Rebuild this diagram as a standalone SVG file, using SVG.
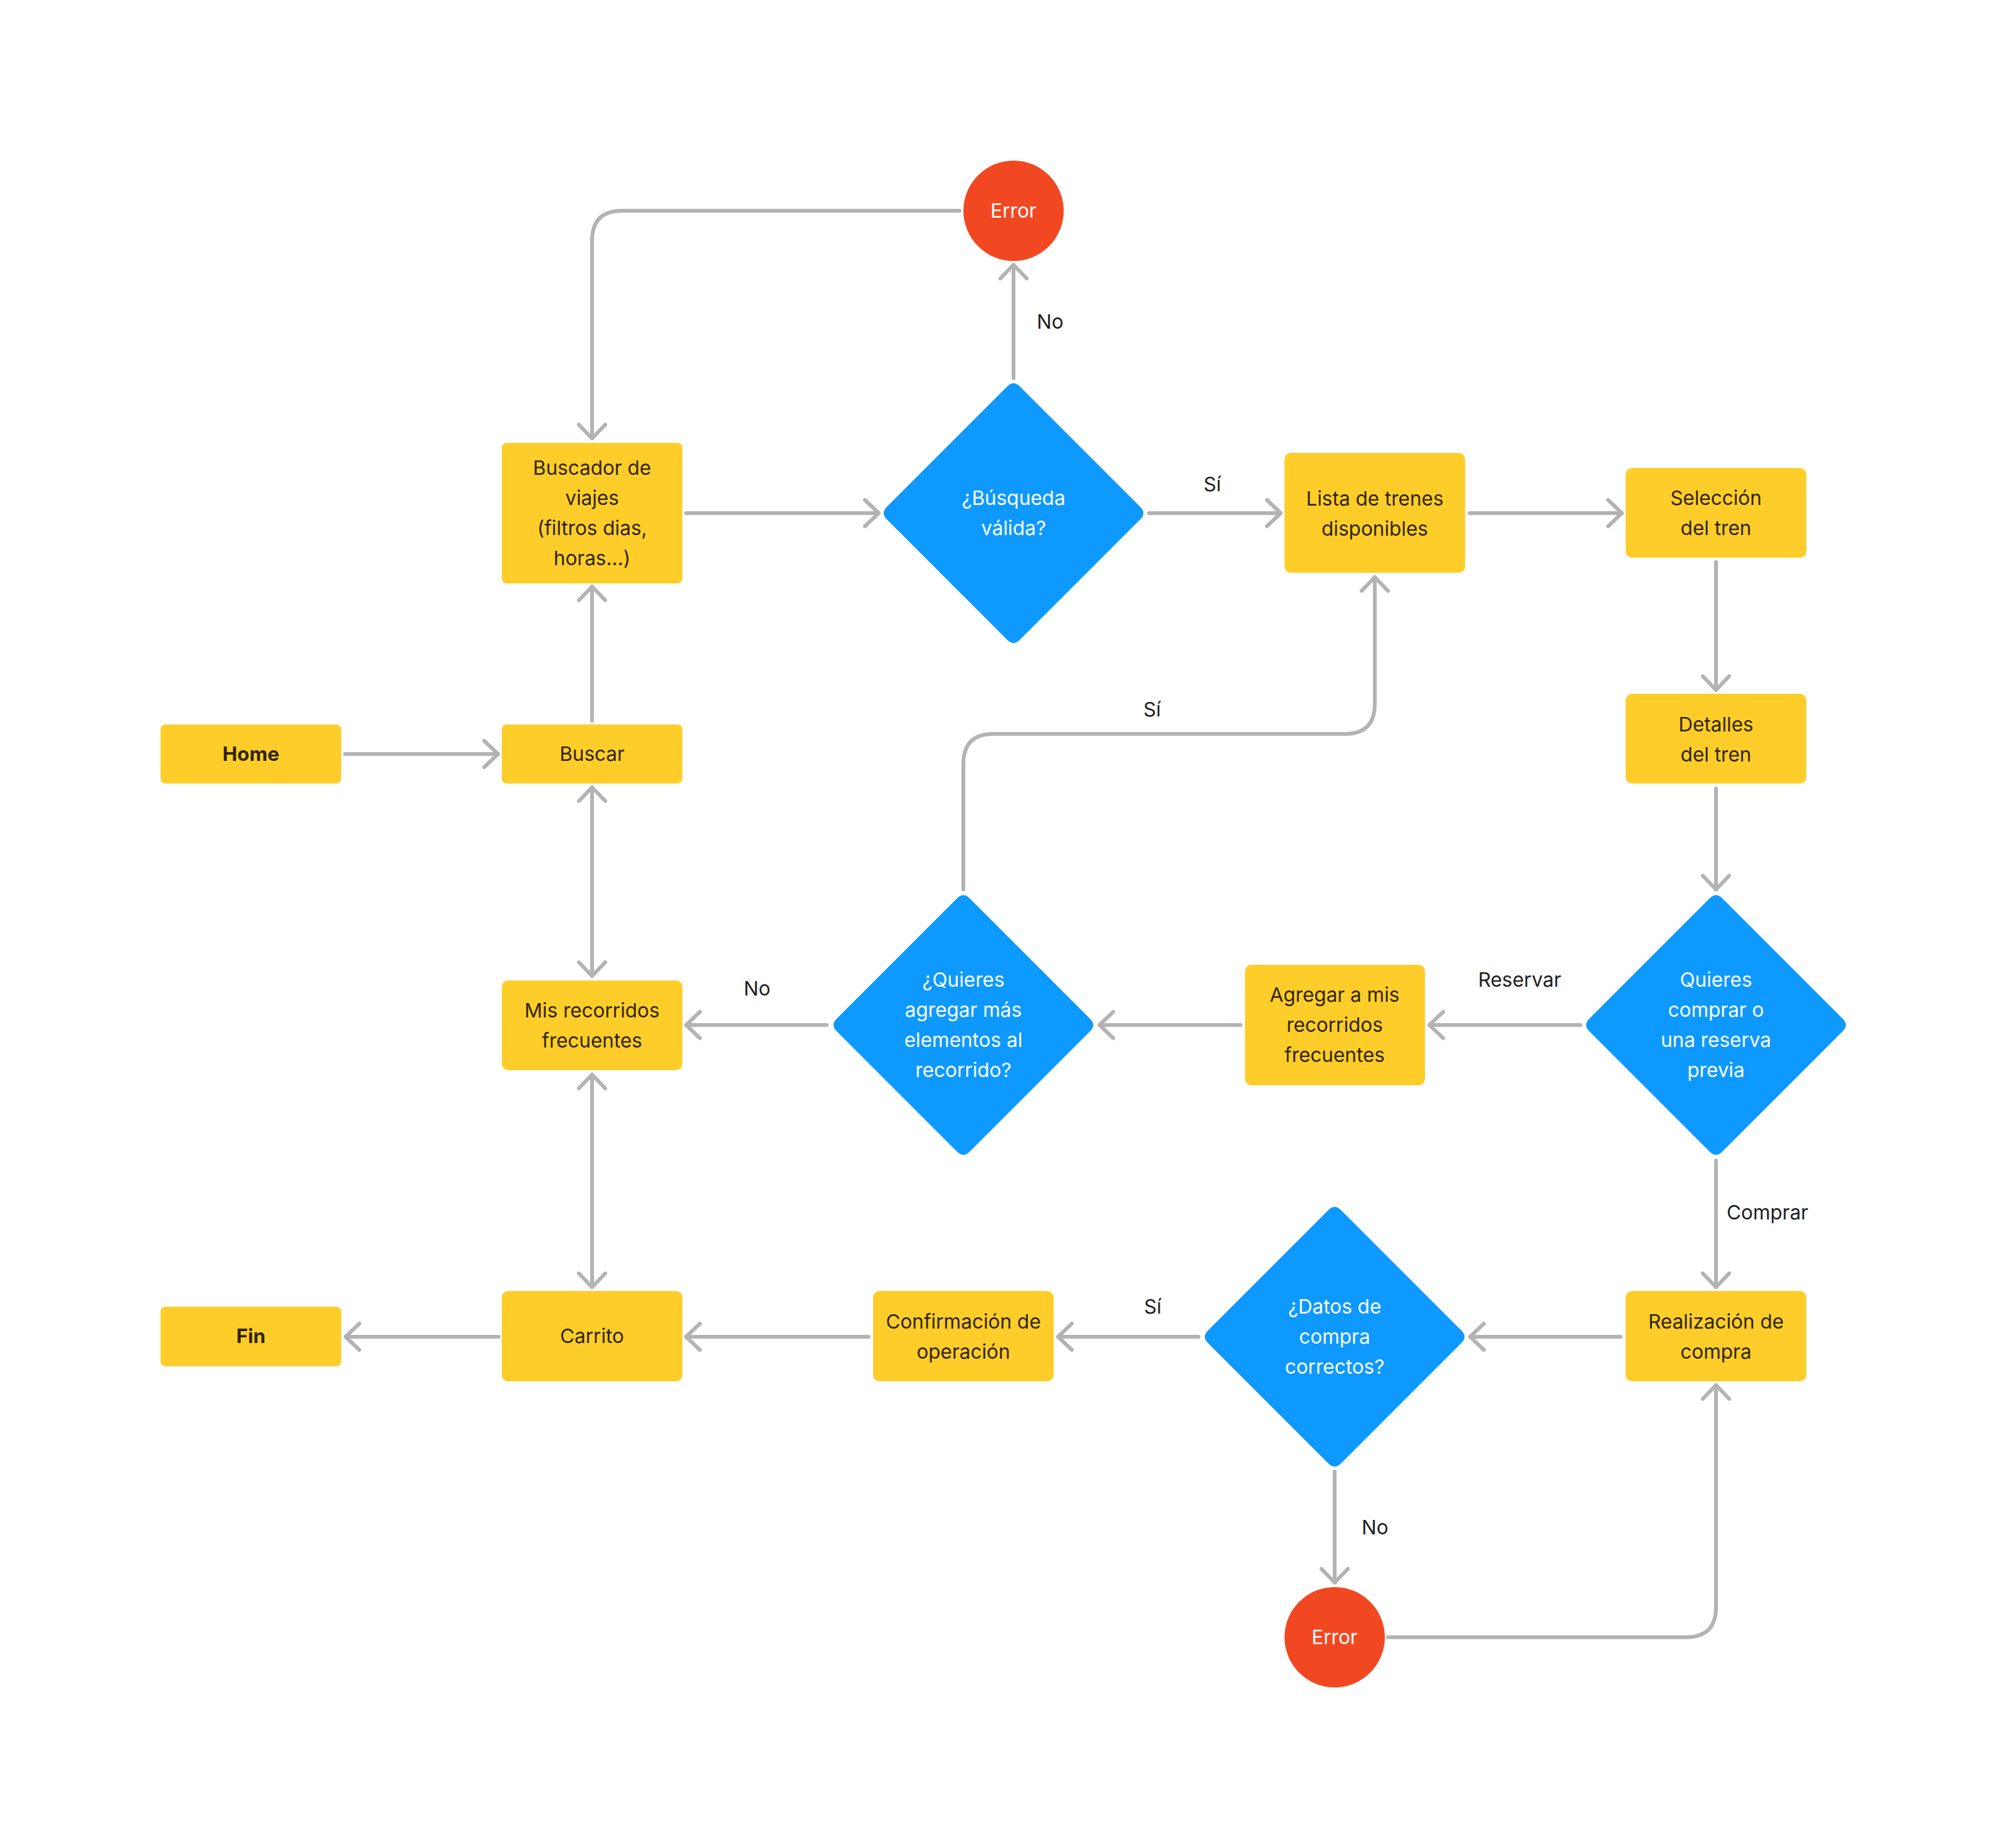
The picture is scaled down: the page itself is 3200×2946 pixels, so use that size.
<svg xmlns="http://www.w3.org/2000/svg" width="3200" height="2946" viewBox="0 0 3200 2946">
<style>
.box{fill:#FFCD29}
.dia{fill:#0D99FF}
.err{fill:#F24822}
.t{font-family:Inter,"Noto Sans","Liberation Sans",sans-serif;font-size:31.5px;text-anchor:middle;fill:#2E2500}
.w{fill:#FFFFFF}
.b{font-weight:700}
.lbl{font-family:Inter,"Noto Sans","Liberation Sans",sans-serif;font-size:31.5px;fill:#1E1E1E}
.c{fill:none;stroke:#B3B3B3;stroke-width:6;stroke-linecap:round;stroke-linejoin:round}
</style>
<defs>
<marker id="ah" markerUnits="userSpaceOnUse" viewBox="-30 -30 40 60" refX="0" refY="0" markerWidth="40" markerHeight="60" orient="auto-start-reverse">
<path d="M-22,-21 L0,0 L-22,21" fill="none" stroke="#B3B3B3" stroke-width="6" stroke-linecap="round" stroke-linejoin="round"/>
</marker>
</defs>
<rect width="3200" height="2946" fill="#FFFFFF"/>
<g id="connectors">
<path class="c" d="M550,1202 L794,1202" marker-end="url(#ah)"/>
<path class="c" d="M944,1149 L944,935" marker-end="url(#ah)"/>
<path class="c" d="M944,1255 L944,1556" marker-start="url(#ah)" marker-end="url(#ah)"/>
<path class="c" d="M944,1713 L944,2052" marker-start="url(#ah)" marker-end="url(#ah)"/>
<path class="c" d="M1094,818 L1401,818" marker-end="url(#ah)"/>
<path class="c" d="M1616,603 L1616,422" marker-end="url(#ah)"/>
<path class="c" d="M1530,336 L992,336 Q944,336 944,384 L944,699" marker-end="url(#ah)"/>
<path class="c" d="M1832,818 L2042,818" marker-end="url(#ah)"/>
<path class="c" d="M2343,818 L2586,818" marker-end="url(#ah)"/>
<path class="c" d="M2736,896 L2736,1100" marker-end="url(#ah)"/>
<path class="c" d="M2736,1257 L2736,1418" marker-end="url(#ah)"/>
<path class="c" d="M2520,1634 L2279,1634" marker-end="url(#ah)"/>
<path class="c" d="M1978,1634 L1753,1634" marker-end="url(#ah)"/>
<path class="c" d="M1318,1634 L1094,1634" marker-end="url(#ah)"/>
<path class="c" d="M1536,1418 L1536,1218 Q1536,1170 1584,1170 L2144,1170 Q2192,1170 2192,1122 L2192,920" marker-end="url(#ah)"/>
<path class="c" d="M2736,1850 L2736,2052" marker-end="url(#ah)"/>
<path class="c" d="M2584,2131 L2344,2131" marker-end="url(#ah)"/>
<path class="c" d="M1911,2131 L1687,2131" marker-end="url(#ah)"/>
<path class="c" d="M1385,2131 L1094,2131" marker-end="url(#ah)"/>
<path class="c" d="M795,2131 L551,2131" marker-end="url(#ah)"/>
<path class="c" d="M2128,2346 L2128,2523" marker-end="url(#ah)"/>
<path class="c" d="M2213,2610 L2688,2610 Q2736,2610 2736,2562 L2736,2208" marker-end="url(#ah)"/>
<text class="lbl" x="1653" y="524">No</text>
<text class="lbl" x="1933" y="783" text-anchor="middle">Sí</text>
<text class="lbl" x="1837" y="1142" text-anchor="middle">Sí</text>
<text class="lbl" x="2423" y="1573" text-anchor="middle">Reservar</text>
<text class="lbl" x="1207" y="1587" text-anchor="middle">No</text>
<text class="lbl" x="2753" y="1944">Comprar</text>
<text class="lbl" x="1838" y="2094" text-anchor="middle">Sí</text>
<text class="lbl" x="2171" y="2446">No</text>
</g>
<g id="home">
<rect class="box" x="256" y="1155" width="288" height="94" rx="8"/>
<text class="t b" x="400" y="1213">Home</text>
</g>
<g id="buscar">
<rect class="box" x="800" y="1155" width="288" height="94" rx="8"/>
<text class="t" x="944" y="1213">Buscar</text>
</g>
<g id="buscador">
<rect class="box" x="800" y="706" width="288" height="224" rx="8"/>
<text class="t" x="944" y="757">Buscador de</text>
<text class="t" x="944" y="805">viajes</text>
<text class="t" x="944" y="853">(filtros dias,</text>
<text class="t" x="944" y="901">horas...)</text>
</g>
<g id="error1">
<circle class="err" cx="1616" cy="336" r="80"/>
<text class="t w" x="1616" y="347">Error</text>
</g>
<g id="busqueda">
<path class="dia" d="M1606,616 Q1616,606 1626,616 L1818,808 Q1828,818 1818,828 L1626,1020 Q1616,1030 1606,1020 L1414,828 Q1404,818 1414,808 Z"/>
<text class="t w" x="1616" y="805">¿Búsqueda</text>
<text class="t w" x="1616" y="853">válida?</text>
</g>
<g id="lista">
<rect class="box" x="2048" y="722" width="288" height="191" rx="10"/>
<text class="t" x="2192" y="806">Lista de trenes</text>
<text class="t" x="2192" y="854">disponibles</text>
</g>
<g id="seleccion">
<rect class="box" x="2592" y="746" width="288" height="143" rx="10"/>
<text class="t" x="2736" y="805">Selección</text>
<text class="t" x="2736" y="853">del tren</text>
</g>
<g id="detalles">
<rect class="box" x="2592" y="1106" width="288" height="143" rx="10"/>
<text class="t" x="2736" y="1166">Detalles</text>
<text class="t" x="2736" y="1214">del tren</text>
</g>
<g id="quieres">
<path class="dia" d="M2726,1432 Q2736,1422 2746,1432 L2938,1624 Q2948,1634 2938,1644 L2746,1836 Q2736,1846 2726,1836 L2534,1644 Q2524,1634 2534,1624 Z"/>
<text class="t w" x="2736" y="1573">Quieres</text>
<text class="t w" x="2736" y="1621">comprar o</text>
<text class="t w" x="2736" y="1669">una reserva</text>
<text class="t w" x="2736" y="1717">previa</text>
</g>
<g id="agregar">
<rect class="box" x="1985" y="1538" width="287" height="192" rx="10"/>
<text class="t" x="2128" y="1597">Agregar a mis</text>
<text class="t" x="2128" y="1645">recorridos</text>
<text class="t" x="2128" y="1693">frecuentes</text>
</g>
<g id="quieres-agregar">
<path class="dia" d="M1526,1432 Q1536,1422 1546,1432 L1738,1624 Q1748,1634 1738,1644 L1546,1836 Q1536,1846 1526,1836 L1334,1644 Q1324,1634 1334,1624 Z"/>
<text class="t w" x="1536" y="1573">¿Quieres</text>
<text class="t w" x="1536" y="1621">agregar más</text>
<text class="t w" x="1536" y="1669">elementos al</text>
<text class="t w" x="1536" y="1717">recorrido?</text>
</g>
<g id="mis-recorridos">
<rect class="box" x="800" y="1563" width="288" height="143" rx="10"/>
<text class="t" x="944" y="1622">Mis recorridos</text>
<text class="t" x="944" y="1670">frecuentes</text>
</g>
<g id="carrito">
<rect class="box" x="800" y="2058" width="288" height="144" rx="10"/>
<text class="t" x="944" y="2141">Carrito</text>
</g>
<g id="fin">
<rect class="box" x="256" y="2083" width="288" height="95" rx="8"/>
<text class="t b" x="400" y="2141">Fin</text>
</g>
<g id="confirmacion">
<rect class="box" x="1392" y="2058" width="288" height="144" rx="10"/>
<text class="t" x="1536" y="2118">Confirmación de</text>
<text class="t" x="1536" y="2166">operación</text>
</g>
<g id="datos">
<path class="dia" d="M2118,1929 Q2128,1919 2138,1929 L2330,2121 Q2340,2131 2330,2141 L2138,2333 Q2128,2343 2118,2333 L1926,2141 Q1916,2131 1926,2121 Z"/>
<text class="t w" x="2128" y="2094">¿Datos de</text>
<text class="t w" x="2128" y="2142">compra</text>
<text class="t w" x="2128" y="2190">correctos?</text>
</g>
<g id="realizacion">
<rect class="box" x="2592" y="2058" width="288" height="144" rx="10"/>
<text class="t" x="2736" y="2118">Realización de</text>
<text class="t" x="2736" y="2166">compra</text>
</g>
<g id="error2">
<circle class="err" cx="2128" cy="2610" r="80"/>
<text class="t w" x="2128" y="2621">Error</text>
</g>
</svg>
